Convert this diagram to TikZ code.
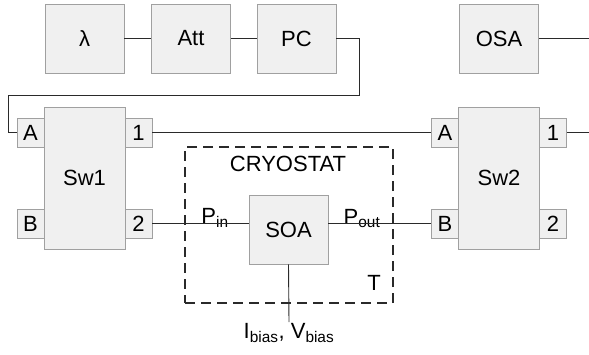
\documentclass[tikz,border=0pt]{standalone}
\usepackage{fontspec}
\setmainfont{Liberation Sans}
\definecolor{boxfill}{HTML}{F0F0F0}
\definecolor{boxline}{HTML}{A0A0A0}
\definecolor{wire}{HTML}{2A2A2A}
\begin{document}
\begin{tikzpicture}[x=1pt,y=-1pt,
  box/.style={draw=boxline, fill=boxfill, line width=0.8pt, inner sep=0pt,
    minimum width=79pt, minimum height=69pt, font=\fontsize{22}{26}\selectfont},
  swbox/.style={box, minimum width=81pt, minimum height=142pt},
  port/.style={box, minimum width=27pt, minimum height=29pt},
  wireline/.style={draw=wire, line width=0.9pt},
  lbl/.style={inner sep=1pt, font=\fontsize{22}{26}\selectfont}]
\useasboundingbox (0,0) rectangle (589,354);
% top row
\node[box] (lam) at (84.5,38.5) {λ};
\node[box] (att) at (191,38.5) {Att};
\node[box] (pc) at (296.5,38.5) {PC};
\node[box] (osa) at (499,38.5) {OSA};
% switches
\node[swbox] (sw1) at (84.5,178) {Sw1};
\node[swbox] (sw2) at (499,178) {Sw2};
\node[port] (a1) at (30.5,132.5) {A};
\node[port] (b1) at (30.5,224) {B};
\node[port] (o1) at (138.5,132.5) {1};
\node[port] (t1) at (138.5,224) {2};
\node[port] (a2) at (445,132.5) {A};
\node[port] (b2) at (445,224) {B};
\node[port] (o2) at (553,132.5) {1};
\node[port] (t2) at (553,224) {2};
% cryostat
\node[draw=wire, line width=1.1pt, dash pattern=on 10pt off 6pt,
  minimum width=208pt, minimum height=156pt, inner sep=0pt] (cryo) at (289,225) {};
\node[lbl] (cryolbl) at (288,164) {CRYOSTAT};
\node[box] (soa) at (288.5,229.5) {SOA};
\node[lbl] (tlbl) at (374,283) {T};
\node[lbl, anchor=south] (pin) at (215,229) {P\textsubscript{in}};
\node[lbl, anchor=south] (pout) at (362,229) {P\textsubscript{out}};
\node[lbl, anchor=north] (bias) at (289,322) {I\textsubscript{bias}, V\textsubscript{bias}};
% free ends
\coordinate (e1) at (589,38.5);
\coordinate (e2) at (589,132.5);
% connectors
\draw[wireline] (lam) -- (att);
\draw[wireline] (att) -- (pc);
\draw[wireline] (pc.east) -- ++(23,0) |- (8,95) |- (a1.west);
\draw[wireline] (o1) -- (a2);
\draw[wireline] (osa.east) -- (e1);
\draw[wireline] (o2.east) -- (e2);
\draw[wireline] ([yshift=1pt]t1.east) -- ([yshift=1pt]t1.east -| soa.west);
\draw[wireline] ([yshift=1pt]b2.west -| soa.east) -- ([yshift=1pt]b2.west);
\draw[wireline] (soa.south) -- (bias.north);
\end{tikzpicture}
\end{document}
